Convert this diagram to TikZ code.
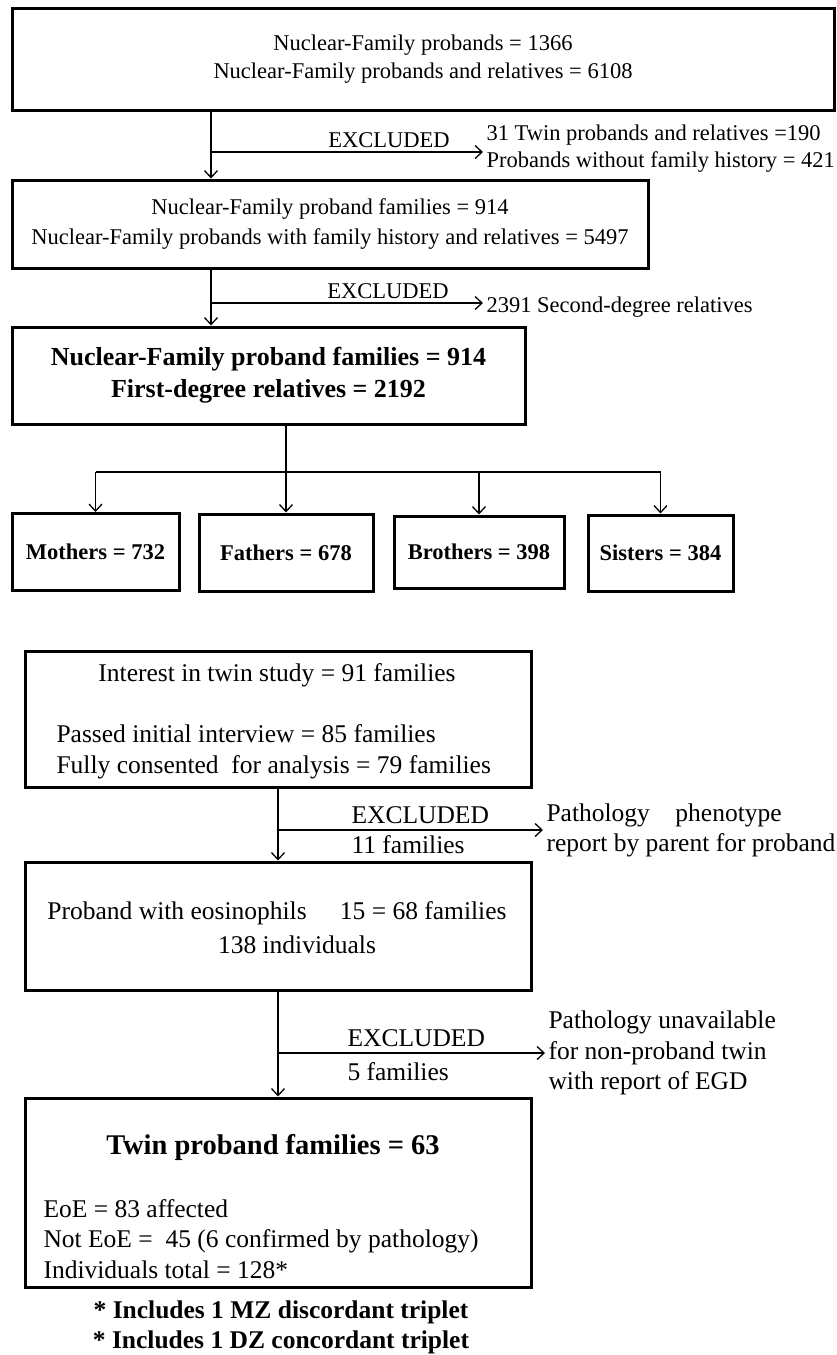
\documentclass[tikz,border=0pt]{standalone}
\usepackage{fontspec}
\setmainfont{Liberation Serif}
\usetikzlibrary{arrows.meta,positioning,calc}

\begin{document}
\begin{tikzpicture}[x=1pt, y=-1pt, >={Straight Barb[length=7pt,width=13pt]},
  box/.style={draw, line width=3pt, inner sep=0pt, align=center},
  flow/.style={line width=1.3pt},
  smalltxt/.style={font=\fontsize{22.5}{27}\selectfont},
  bigtxt/.style={font=\fontsize{25.5}{30.5}\selectfont}]
  \useasboundingbox (0,0) rectangle (836,1355);

  % nuclear-family part
  \node[box, smalltxt, minimum width=822pt, minimum height=102pt] (nfp) at (423,59)
    {Nuclear-Family probands = 1366\\[1pt]Nuclear-Family probands and relatives = 6108};
  \node[box, smalltxt, minimum width=636pt, minimum height=88pt] (nff) at (330,224)
    {Nuclear-Family proband families = 914\\[3pt]Nuclear-Family probands with family history and relatives = 5497};
  \node[box, font=\fontsize{26}{32}\bfseries, minimum width=513pt, minimum height=97pt] (fdr) at (268.5,375.5)
    {Nuclear-Family proband families = 914\\First-degree relatives = 2192};

  % relatives boxes
  \node[box, smalltxt, font=\fontsize{22.5}{27}\bfseries, minimum width=167pt, minimum height=77pt] (mo) at (95.5,552) {Mothers = 732};
  \node[box, smalltxt, font=\fontsize{22.5}{27}\bfseries, minimum width=174pt, minimum height=77pt] (fa) at (286,552.5) {Fathers = 678};
  \node[box, smalltxt, font=\fontsize{22.5}{27}\bfseries, minimum width=170pt, minimum height=72pt] (br) at (479,552) {Brothers = 398};
  \node[box, smalltxt, font=\fontsize{22.5}{27}\bfseries, minimum width=145pt, minimum height=76pt] (si) at (660.5,553) {Sisters = 384};

  % excluded (top)
  \coordinate (j1) at (211,152);
  \coordinate (j2) at (211,303);
  \node[smalltxt, anchor=west, align=left] (ex1) at (483,149)
    {31 Twin probands and relatives =190\\Probands without family history = 421};
  \node[smalltxt, anchor=west] (ex2) at (483,307) {2391 Second-degree relatives};
  \node[smalltxt] (lx1) at (389,140) {EXCLUDED};
  \node[smalltxt] (lx2) at (388,291) {EXCLUDED};

  \draw[flow, ->] (j1 |- nfp.south) -- (j1 |- nff.north);
  \draw[flow, ->] (j1) -- (j1 -| ex1.west);
  \draw[flow, ->] (j2 |- nff.south) -- (j2 |- fdr.north);
  \draw[flow, ->] (j2) -- (j2 -| ex2.west);

  % split to relatives
  \coordinate (split) at (286,472);
  \draw[flow, ->] (fa.north |- fdr.south) -- (fa.north);
  \draw[flow] (mo.north |- split) -- (si.north |- split);
  \draw[flow, ->] (mo.north |- split) -- (mo.north);
  \draw[flow, ->] (br.north |- split) -- (br.north);
  \draw[flow, ->] (si.north |- split) -- (si.north);

  % twin part
  \node[box, minimum width=506pt, minimum height=136pt] (tw1) at (278,719) {};
  \node[bigtxt] (tw1a) at (277,675) {Interest in twin study = 91 families};
  \node[bigtxt, anchor=west, align=left] (tw1b) at (53,752)
    {Passed initial interview = 85 families\\Fully consented\ \ for analysis = 79 families};

  \node[box, minimum width=506pt, minimum height=128pt] (tw2) at (278,926) {};
  \node[bigtxt] (tw2a) at (277,913) {Proband with eosinophils\hspace{1.3em}15 = 68 families};
  \node[bigtxt] (tw2b) at (297,945) {138 individuals};

  \node[box, minimum width=506pt, minimum height=189pt] (tw3) at (278,1192.5) {};
  \node[font=\fontsize{28.5}{34}\bfseries] (tw3a) at (273,1147) {Twin proband families = 63};
  \node[bigtxt, anchor=west, align=left] (tw3b) at (40,1239)
    {EoE = 83 affected\\Not EoE =\ \ 45 (6 confirmed by pathology)\\Individuals total = 128*};

  % excluded (twins)
  \coordinate (j3) at (278,830);
  \coordinate (j4) at (278,1053);
  \node[bigtxt, anchor=west, align=left] (ex3) at (543,830.5)
    {Pathology\hspace{1em}phenotype\\report by parent for proband};
  \node[bigtxt, anchor=west, align=left] (ex4) at (545,1053)
    {Pathology unavailable\\for non-proband twin\\with report of EGD};
  \node[bigtxt, anchor=west] (lx3) at (348,815) {EXCLUDED};
  \node[bigtxt, anchor=west] (nx3) at (348,845) {11 families};
  \node[bigtxt, anchor=west] (lx4) at (344,1038) {EXCLUDED};
  \node[bigtxt, anchor=west] (nx4) at (344,1072) {5 families};

  \draw[flow, ->] (tw1.south) -- (tw2.north);
  \draw[flow, ->] (j3) -- (j3 -| ex3.west);
  \draw[flow, ->] (tw2.south) -- (tw3.north);
  \draw[flow, ->] (j4) -- (j4 -| ex4.west);

  % footnotes
  \node[font=\fontsize{25.5}{30}\bfseries] (fn1) at (281,1312) {* Includes 1 MZ discordant triplet};
  \node[font=\fontsize{25.5}{30}\bfseries] (fn2) at (281,1342) {* Includes 1 DZ concordant triplet};
\end{tikzpicture}
\end{document}
